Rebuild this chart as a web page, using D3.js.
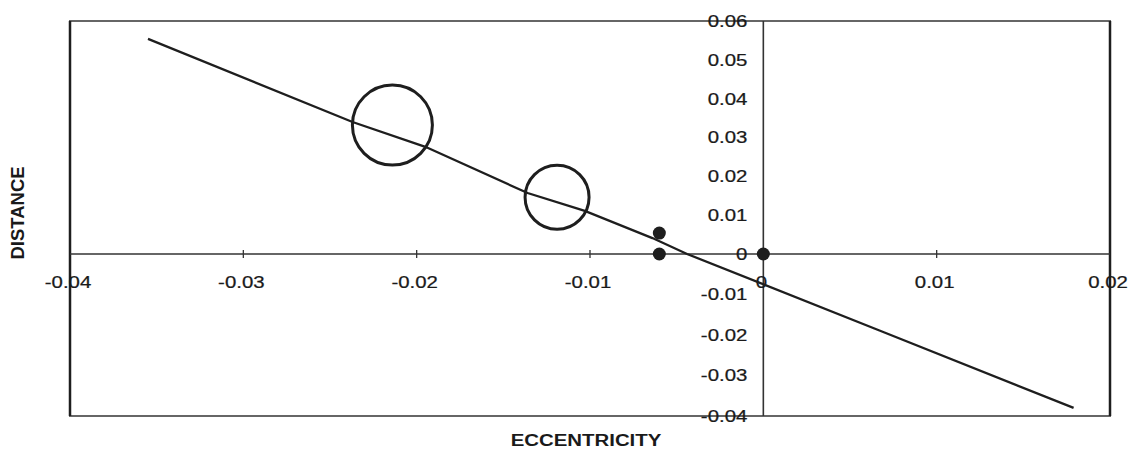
<!DOCTYPE html>
<html>
<head>
<meta charset="utf-8">
<script src="https://cdn.jsdelivr.net/npm/d3@7"></script>
<style>
  html, body { margin: 0; padding: 0; background: #fff; }
  svg { display: block; }
  .tick-label { font-family: Arial, "Liberation Sans", sans-serif; font-size: 17px; fill: #1a1a1a; stroke: #1a1a1a; stroke-width: 0.25px; }
  .axis-title { font-family: Arial, "Liberation Sans", sans-serif; font-size: 17px; font-weight: bold; fill: #1a1a1a; }
</style>
</head>
<body>
<svg id="chart" width="1134" height="458"></svg>
<script>
// values
const lineX = [-0.0355, -0.0237, -0.0195, -0.0136, -0.0103, -0.0064, -0.0044, 0.0067, 0.0179];
const lineY = [0.0554, 0.0340, 0.0276, 0.0157, 0.0111, 0.0041, 0.0, -0.0189, -0.0380];

const bubbleX = [-0.0214, -0.0119];
const bubbleY = [0.0332, 0.0146];
const bubbleSize = [1.0, 0.64];

const dotX = [-0.0060, -0.0060, 0.0];
const dotY = [0.0054, 0.0, 0.0];

const xTicks = [-0.04, -0.03, -0.02, -0.01, 0, 0.01, 0.02];
const xTickLabels = ["-0.04", "-0.03", "-0.02", "-0.01", "0", "0.01", "0.02"];
const yTicks = [-0.04, -0.03, -0.02, -0.01, 0, 0.01, 0.02, 0.03, 0.04, 0.05, 0.06];
const yTickLabels = ["-0.04", "-0.03", "-0.02", "-0.01", "0", "0.01", "0.02", "0.03", "0.04", "0.05", "0.06"];

const svg = d3.select("#chart");
const plotLeft = 70, plotRight = 1110, plotTop = 21, plotBottom = 416;

const x = d3.scaleLinear().domain([-0.04, 0.02]).range([plotLeft, plotRight]);
// the scan is slightly stretched below the x axis, so the scale has a knot at 0
const y = d3.scaleLinear().domain([-0.04, 0, 0.06]).range([plotBottom, 254, plotTop]);
const r = d3.scaleSqrt().domain([0, 1]).range([0, 40]);

const ink = "#1e1e1e";

// plot frame
svg.append("rect")
  .attr("x", plotLeft).attr("y", plotTop)
  .attr("width", plotRight - plotLeft).attr("height", plotBottom - plotTop)
  .attr("fill", "none").attr("stroke", "#666").attr("stroke-width", 2);
svg.append("line").attr("x1", plotLeft).attr("x2", plotLeft).attr("y1", plotTop).attr("y2", plotBottom)
  .attr("stroke", ink).attr("stroke-width", 2.5);
svg.append("line").attr("x1", plotRight).attr("x2", plotRight).attr("y1", plotTop).attr("y2", plotBottom)
  .attr("stroke", ink).attr("stroke-width", 2.5);

// axes crossing at the origin
svg.append("line").attr("x1", plotLeft).attr("x2", plotRight).attr("y1", y(0)).attr("y2", y(0))
  .attr("stroke", "#333").attr("stroke-width", 1.7);
svg.append("line").attr("x1", x(0)).attr("x2", x(0)).attr("y1", plotTop).attr("y2", plotBottom)
  .attr("stroke", "#333").attr("stroke-width", 1.6);

svg.append("g").selectAll("line")
  .data(xTicks.slice(1, -1))
  .join("line")
  .attr("x1", d => x(d)).attr("x2", d => x(d))
  .attr("y1", y(0) - 4).attr("y2", y(0) + 4)
  .attr("stroke", "#333").attr("stroke-width", 1.3);

// tick labels (the scan is a bit wider than tall, hence the x-stretch)
svg.append("g").selectAll("text")
  .data(xTicks)
  .join("text")
  .attr("class", "tick-label")
  .attr("text-anchor", "middle")
  .attr("dy", "0.35em")
  .attr("transform", d => `translate(${x(d) - 2},${282}) scale(1.2,1)`)
  .text((d, i) => xTickLabels[i]);

svg.append("g").selectAll("text")
  .data(yTicks)
  .join("text")
  .attr("class", "tick-label")
  .attr("text-anchor", "end")
  .attr("dy", "0.35em")
  .attr("transform", d => `translate(${x(0) - 16},${y(d)}) scale(1.2,1)`)
  .text((d, i) => yTickLabels[i]);

// fitted line
const line = d3.line().x(d => x(d[0])).y(d => y(d[1]));
svg.append("path")
  .datum(lineX.map((v, i) => [v, lineY[i]]))
  .attr("d", line)
  .attr("fill", "none").attr("stroke", ink).attr("stroke-width", 2.3);

// bubbles
svg.append("g").selectAll("circle")
  .data(bubbleX.map((v, i) => ({ x: v, y: bubbleY[i], s: bubbleSize[i] })))
  .join("circle")
  .attr("cx", d => x(d.x)).attr("cy", d => y(d.y)).attr("r", d => r(d.s))
  .attr("fill", "none").attr("stroke", ink).attr("stroke-width", 3);

// solid points
svg.append("g").selectAll("circle")
  .data(dotX.map((v, i) => ({ x: v, y: dotY[i] })))
  .join("circle")
  .attr("cx", d => x(d.x)).attr("cy", d => y(d.y)).attr("r", 6.5)
  .attr("fill", ink);

// axis titles
svg.append("text")
  .attr("class", "axis-title")
  .attr("text-anchor", "middle")
  .attr("transform", `translate(${(plotLeft + plotRight) / 2 - 4},${446}) scale(1.2,1)`)
  .text("ECCENTRICITY");

svg.append("text")
  .attr("class", "axis-title")
  .attr("text-anchor", "middle")
  .style("font-size", "18.5px")
  .attr("transform", `translate(${24},${213}) rotate(-90)`)
  .text("DISTANCE");
</script>
</body>
</html>
